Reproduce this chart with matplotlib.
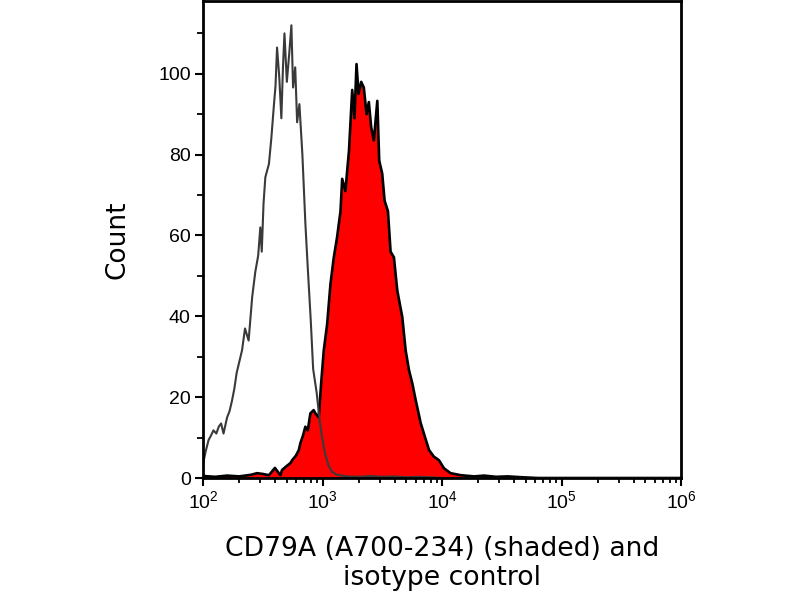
import numpy as np
import matplotlib
matplotlib.use("Agg")
import matplotlib.pyplot as plt
from matplotlib.ticker import MultipleLocator, LogLocator, NullFormatter

# isotype control (open, grey line): log10 intensity, count
iso_log = [2.00, 2.02, 2.045, 2.065, 2.086, 2.11, 2.13, 2.15, 2.17, 2.20, 2.22, 2.24, 2.26,
           2.28, 2.30, 2.325, 2.35, 2.38, 2.41, 2.436, 2.46, 2.478, 2.49, 2.505, 2.52, 2.55,
           2.57, 2.59, 2.605, 2.618, 2.637, 2.654, 2.668, 2.68, 2.70, 2.72, 2.738, 2.752,
           2.77, 2.786, 2.805, 2.83, 2.855, 2.875, 2.90, 2.92, 2.95, 2.975, 2.995, 3.02,
           3.05, 3.08, 3.12, 3.2, 3.3, 3.4, 3.5, 3.6, 3.7, 3.8, 3.9, 4.0, 5.0, 6.0]
iso_count = [3.7, 6.5, 9.4, 10.5, 11.8, 11.0, 12.7, 13.5, 11.0, 15.0, 16.5, 19.0, 22.0,
             26.0, 28.5, 31.6, 37.0, 34.0, 44.8, 51.0, 55.0, 62.0, 56.0, 68.0, 74.4, 77.7,
             84.0, 91.6, 97.0, 106.5, 99.0, 89.0, 102.0, 110.0, 98.0, 105.0, 112.0, 96.6,
             101.6, 88.0, 92.5, 80.0, 63.0, 52.0, 39.0, 27.0, 21.0, 14.0, 10.0, 6.0,
             3.0, 1.5, 0.8, 0.4, 0.3, 0.5, 0.3, 0.4, 0.2, 0.3, 0.2, 0.0, 0.0, 0.0]

# CD79A (A700-234) stained (shaded red)
cd_log = [2.00, 2.1, 2.2, 2.3, 2.4, 2.45, 2.5, 2.55, 2.6, 2.646, 2.66, 2.70, 2.73, 2.744,
          2.775, 2.80, 2.813, 2.835, 2.855, 2.875, 2.897, 2.924, 2.939, 2.967, 2.987, 3.009,
          3.037, 3.065, 3.093, 3.12, 3.149, 3.163, 3.19, 3.22, 3.247, 3.266, 3.283, 3.30,
          3.322, 3.344, 3.367, 3.386, 3.406, 3.428, 3.457, 3.473, 3.498, 3.518, 3.546,
          3.568, 3.596, 3.624, 3.666, 3.694, 3.722, 3.75, 3.778, 3.82, 3.847, 3.89, 3.93,
          3.973, 4.015, 4.07, 4.155, 4.267, 4.35, 4.45, 4.55, 4.66, 4.8, 6.0]
cd_count = [0.5, 0.3, 0.6, 0.4, 0.8, 1.2, 1.0, 0.7, 2.5, 0.7, 2.0, 3.0, 3.7, 4.4,
            5.5, 6.9, 8.6, 10.5, 12.7, 11.8, 16.0, 16.8, 16.0, 15.0, 23.4, 31.6,
            38.0, 48.0, 54.6, 59.5, 66.0, 74.0, 71.0, 81.0, 96.0, 89.0, 102.4, 95.0,
            98.0, 96.6, 90.0, 93.0, 86.7, 83.5, 93.3, 78.5, 75.3, 68.6, 66.0,
            56.0, 54.6, 46.4, 39.8, 31.6, 26.7, 23.4, 19.3, 13.6, 11.0, 6.9, 5.3,
            4.4, 2.4, 1.2, 0.7, 0.4, 0.6, 0.3, 0.4, 0.2, 0.0, 0.0]

plt.rcParams['font.family'] = ['Liberation Sans', 'DejaVu Sans']

fig = plt.figure(figsize=(8, 6), dpi=100)
ax = fig.add_axes([0.254, 0.2033, 0.5975, 0.795])

cd_x = 10 ** np.array(cd_log)
iso_x = 10 ** np.array(iso_log)
ax.fill_between(cd_x, cd_count, 0, color='#ff0000', lw=0)
ax.plot(cd_x, cd_count, color='black', lw=1.9)
ax.plot(iso_x, iso_count, color='#3a3a3a', lw=1.5)

ax.set_xscale('log')
ax.set_xlim(1e2, 1e6)
ax.set_ylim(0, 118)
ax.yaxis.set_major_locator(MultipleLocator(20))
ax.yaxis.set_minor_locator(MultipleLocator(10))
ax.xaxis.set_major_locator(LogLocator(base=10))
ax.xaxis.set_minor_locator(LogLocator(base=10, subs=np.arange(2, 10)))
ax.xaxis.set_minor_formatter(NullFormatter())

ax.tick_params(which='major', direction='out', length=6, width=1.5, labelsize=14, pad=3)
ax.tick_params(which='minor', direction='out', length=3.5, width=1.3)
ax.tick_params(axis='y', which='minor', length=4)
for s in ax.spines.values():
    s.set_linewidth(2)
    s.set_color('black')

ax.set_ylabel('Count', fontsize=19, family='DejaVu Sans', labelpad=20)
ax.set_xlabel('CD79A (A700-234) (shaded) and\nisotype control', fontsize=19.2,
              family='DejaVu Sans', labelpad=17, linespacing=1.15)

fig.savefig('out.png', dpi=100)
